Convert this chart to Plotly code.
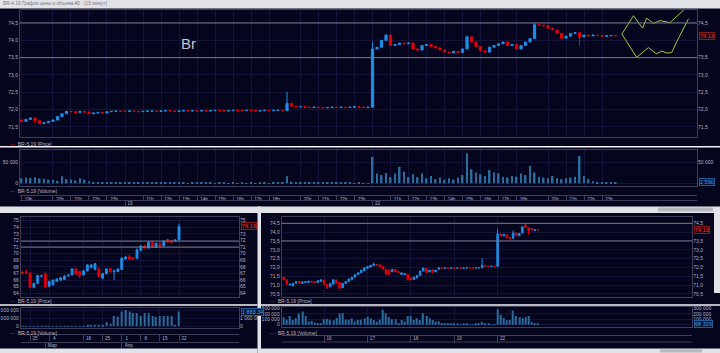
import plotly.graph_objects as go

W, H = 720, 353

SESSIONS = [("10:00", "13:45"), ("14:00", "18:30"), ("19:00", "23:45")]

# ===================== DATA =====================
# --- top window: BR-5.19, 15-minute bars (18, 19, 22 April) ---
TOP_DAYS = ["18", "19", "22"]
TOP_DAY_START = ["18:00", "10:00", "10:00"]
TOP_FIRST_OPEN = 71.70
TOP_CLOSE = [
    # 18
    71.66, 71.72, 71.76, 71.68, 71.60, 71.62, 71.66, 71.70, 71.80, 71.88, 71.95, 71.94,
    71.92, 71.95, 71.93, 71.88, 71.90, 71.92, 71.90, 71.94, 71.95, 71.96, 71.95,
    # 19
    71.95, 71.96, 71.95, 71.94, 71.95, 71.96, 71.96, 71.95, 71.96, 71.97,
    71.96, 71.95, 71.96, 71.97, 71.96, 71.97, 71.96, 71.97, 71.96, 71.97,
    71.98, 71.97, 71.96, 71.97, 71.98, 71.97, 71.97, 71.98, 71.97, 71.96,
    71.97, 71.98, 71.97, 71.98, 71.98, 71.97, 72.18, 72.10, 72.08, 72.09,
    72.07, 72.06, 72.07, 72.06, 72.05, 72.06, 72.07, 72.06, 72.07, 72.06,
    72.07, 72.08, 72.07, 72.06, 72.07,
    # 22
    73.75, 73.80, 74.00, 74.15, 73.85, 73.88, 73.92, 73.90, 73.92, 73.75,
    73.72, 73.85, 73.88, 73.82, 73.78, 73.72, 73.66, 73.64, 73.68, 73.65,
    73.75, 74.10, 73.95, 73.82, 73.70, 73.66, 73.80, 73.85, 73.90, 73.95,
    73.85, 73.88, 73.75, 73.85, 73.95, 74.05, 74.45, 74.44, 74.42, 74.35,
    74.30, 74.20, 74.06, 74.12, 74.20, 74.22, 74.10, 74.15, 74.13, 74.15,
    74.14, 74.12, 74.13, 74.14, 74.13,
]
TOP_HIGHS = {"19 19:15": 72.52, "22 10:00": 73.96, "22 10:45": 74.18,
             "22 15:15": 74.14, "22 19:15": 74.50}
TOP_LOWS = {"22 21:45": 73.85, "18 19:00": 71.58}
TOP_VOLUME = [
    # 18
    12000, 14000, 13000, 15000, 12000, 11000, 9000, 8000, 6000, 17000, 10000, 9000,
    7000, 12000, 9000, 5000, 3000, 2500, 2000, 3000, 2000, 2000, 1500,
    # 19
    2500, 1800, 1500, 1200, 1400, 1000, 1200, 900, 1100, 800,
    1000, 900, 1200, 800, 700, 900, 1000, 800, 1100, 900,
    700, 800, 1000, 600, 900, 700, 800, 600, 900, 700,
    800, 900, 600, 800, 1200, 3000, 17000, 4000, 2500, 2000,
    1800, 1500, 1200, 1400, 1000, 1200, 900, 1100, 800, 1000,
    900, 700, 800, 600, 700,
    # 22
    64000, 24000, 20000, 25000, 15000, 24000, 40000, 28000, 15000, 22000,
    15000, 24000, 12000, 18000, 10000, 14000, 8000, 12000, 9000, 14000,
    20000, 73000, 34000, 26000, 22000, 18000, 32000, 26000, 24000, 16000,
    14000, 18000, 16000, 24000, 20000, 42000, 26000, 16000, 14000, 12000,
    18000, 12000, 10000, 12000, 14000, 16000, 66000, 18000, 10000, 5000,
    3000, 2000, 2500, 2000, 2600,
]
TOP_PRICE_TICKS = [71.5, 72.0, 72.5, 73.0, 73.5, 74.0, 74.5]
TOP_PRICE_TICKS_RIGHT = [71.5, 72.0, 72.5, 73.0, 73.5, 74.5]
TOP_VOLUME_TICKS = [0, 50000]
TOP_VOLUME_TICKS_RIGHT = [50000]
TOP_LEVELS = [74.5, 73.5]
TOP_HOUR_TICKS = ["18 18:00", "18 20:00", "18 21:00", "18 22:00", "18 23:00",
                  "19 11:00", "19 12:00", "19 13:00", "19 14:00", "19 15:00", "19 16:00",
                  "19 17:00", "19 18:00", "19 20:00", "19 21:00", "19 22:00", "19 23:00",
                  "22 11:00", "22 12:00", "22 13:00", "22 14:00", "22 15:00", "22 16:00",
                  "22 17:00", "22 18:00", "22 20:00", "22 21:00", "22 22:00", "22 23:00"]
TOP_HOUR_TEXT = ["19h", "20h", "21h", "22h", "23h",
                 "11h", "12h", "13h", "14h", "15h", "16h", "17h", "18h", "20h", "21h", "22h", "23h",
                 "11h", "12h", "13h", "14h", "15h", "16h", "17h", "18h", "20h", "21h", "22h", "23h"]
TOP_DATE_TICKS = ["19 10:00", "22 10:00"]
TOP_DATE_TEXT = ["19", "22"]
# hand-drawn forecast lines (bar-slot units, price)
FORECAST_UPPER_X = [133.4, 136.0, 138.0, 138.9, 140.4, 141.9, 144.1, 147.1, 148.6]
FORECAST_UPPER_Y = [74.18, 74.71, 74.35, 74.64, 74.49, 74.57, 74.51, 74.875, 75.05]
FORECAST_LOWER_X = [133.4, 136.7, 139.3, 141.1, 142.3, 143.4, 144.5, 145.6, 148.2]
FORECAST_LOWER_Y = [74.18, 73.51, 73.79, 73.61, 73.69, 73.63, 73.65, 73.96, 74.62]

# --- bottom-left window: BR-5.19, daily bars ---
BL_DATES = ["2019-02-21", "2019-02-22", "2019-02-25", "2019-02-26", "2019-02-27", "2019-02-28",
            "2019-03-01", "2019-03-04", "2019-03-05", "2019-03-06", "2019-03-07", "2019-03-11",
            "2019-03-12", "2019-03-13", "2019-03-14", "2019-03-15", "2019-03-18", "2019-03-19",
            "2019-03-20", "2019-03-21", "2019-03-22", "2019-03-25", "2019-03-26", "2019-03-27",
            "2019-03-28", "2019-03-29", "2019-04-01", "2019-04-02", "2019-04-03", "2019-04-04",
            "2019-04-05", "2019-04-08", "2019-04-09", "2019-04-10", "2019-04-11", "2019-04-12",
            "2019-04-15", "2019-04-16", "2019-04-17", "2019-04-18", "2019-04-19", "2019-04-22"]
BL_OPEN = [67.20, 67.25, 67.05, 64.90, 65.50, 66.60, 66.90, 65.10, 65.30, 65.80, 66.00, 66.10,
           66.65, 66.80, 67.70, 67.30, 66.80, 67.40, 67.90, 67.60, 67.70, 66.30, 66.95, 67.75,
           67.30, 67.30, 67.60, 69.20, 69.55, 69.40, 69.30, 70.50, 71.15, 70.85, 71.70, 70.95,
           71.55, 71.20, 72.15, 71.95, 71.90, 72.10]
BL_HIGH = [67.40, 67.60, 67.20, 65.60, 66.80, 66.80, 67.30, 65.90, 66.10, 66.30, 66.50, 66.80,
           66.90, 67.80, 67.90, 67.40, 67.50, 68.40, 68.40, 68.60, 68.00, 67.10, 67.80, 67.90,
           67.60, 67.80, 69.50, 69.70, 69.80, 69.50, 70.80, 71.30, 71.40, 71.90, 71.90, 71.70,
           71.70, 72.00, 72.30, 72.10, 72.20, 74.55]
BL_LOW = [66.90, 66.95, 64.80, 64.75, 65.40, 66.40, 64.80, 64.90, 65.20, 65.70, 65.90, 66.00,
          66.50, 66.70, 66.80, 66.30, 66.70, 67.30, 67.80, 67.50, 66.40, 66.10, 66.90, 67.20,
          66.00, 67.20, 67.50, 69.10, 69.10, 69.10, 69.20, 70.40, 70.70, 70.80, 70.90, 70.90,
          71.00, 71.10, 71.70, 71.50, 71.80, 72.00]
BL_CLOSE = [67.05, 67.10, 64.90, 65.50, 66.70, 66.65, 65.00, 65.80, 66.00, 66.15, 66.35, 66.60,
            66.75, 67.70, 66.90, 66.70, 67.40, 68.30, 68.30, 68.50, 66.50, 67.00, 67.70, 67.25,
            67.40, 67.70, 69.30, 69.50, 69.20, 69.30, 70.60, 71.15, 70.85, 71.70, 70.95, 71.55,
            71.15, 71.90, 71.80, 71.75, 72.05, 74.13]
BL_VOLUME = [15000, 12000, 20000, 14000, 16000, 10000, 18000, 14000, 12000, 15000, 13000, 18000,
             15000, 35000, 30000, 40000, 28000, 45000, 50000, 48000, 90000, 120000, 500000, 300000,
             1300000, 1200000, 1900000, 2100000, 1900000, 1700000, 1700000, 1300000, 1700000, 1700000,
             1300000, 1200000, 1300000, 1300000, 1300000, 1300000, 60000, 1880000]
BL_PRICE_TICKS = [64, 65, 66, 67, 68, 69, 70, 71, 72, 73, 74, 75]
BL_PRICE_TICKS_RIGHT = [64, 65, 66, 67, 68, 69, 70, 71, 72, 73, 75]
BL_VOLUME_TICKS = [0, 1000000, 2000000]
BL_VOLUME_TICKS_RIGHT = [0, 1000000]
BL_VOLUME_TEXT_RIGHT = ["0", "1 000 00"]   # clipped by the window border in the screenshot
BL_LEVELS = [71.9, 71.0]
BL_TICK_DATES = ["2019-02-25", "2019-03-04", "2019-03-18", "2019-03-25",
                 "2019-04-01", "2019-04-08", "2019-04-15", "2019-04-22"]
BL_TICK_TEXT = ["25", "4", "18", "25", "1", "8", "15", "22"]
BL_MONTH_DATES = ["2019-03-01", "2019-04-01"]
BL_MONTH_TEXT = ["Мар", "Апр"]

# --- bottom-right window: BR-5.19, hourly bars (15-22 April) ---
BR_DAYS = ["15", "16", "17", "18", "19", "22"]
BR_DAY_START = ["11:00", "10:00", "10:00", "10:00", "10:00", "10:00"]
BR_OPEN = [
    71.45, 71.30, 71.00, 70.95, 71.10, 71.20, 71.10, 71.15, 71.15, 71.22, 71.20, 71.15, 71.20,
    71.28, 71.05, 70.90, 71.05, 71.30, 71.15, 70.85, 71.10, 71.20, 71.30, 71.45, 71.60, 71.70, 71.80,
    71.95, 72.02, 72.10, 72.18, 72.15, 72.05, 71.90, 71.85, 71.75, 71.88, 71.78, 71.60, 71.60, 71.62,
    71.40, 71.32, 71.40, 71.55, 71.80, 71.95, 71.75, 71.88, 71.75, 71.90, 71.98, 71.95, 71.97, 71.95,
    71.97, 71.96, 71.97, 71.96, 71.97, 71.98, 71.97, 71.97, 71.98, 71.98, 72.12, 72.07, 72.06, 72.07,
    72.06, 73.90, 73.78, 73.85, 73.70, 73.65, 73.95, 73.80, 73.95, 74.40, 74.25, 74.20, 74.10, 74.13,
]
BR_CLOSE = [
    71.30, 71.05, 71.05, 71.10, 71.20, 71.10, 71.18, 71.20, 71.22, 71.18, 71.12, 71.25, 71.30,
    71.05, 70.85, 71.10, 71.30, 71.10, 70.82, 71.10, 71.20, 71.35, 71.45, 71.60, 71.70, 71.85, 71.98,
    72.05, 72.12, 72.18, 72.12, 72.05, 71.90, 71.62, 71.60, 71.88, 71.75, 71.70, 71.70, 71.65, 71.35,
    71.30, 71.45, 71.55, 71.80, 71.97, 71.72, 71.85, 71.72, 71.85, 71.98, 71.95, 71.97, 71.95, 71.97,
    71.96, 71.97, 71.96, 71.97, 71.98, 71.97, 71.97, 71.98, 71.98, 72.12, 72.07, 72.06, 72.07, 72.06,
    73.90, 73.78, 73.88, 73.68, 73.62, 73.95, 73.80, 73.92, 74.30, 74.28, 74.10, 74.12, 74.14, 74.13,
]
BR_HIGHS = {"19 19:00": 72.52, "22 10:00": 74.20, "22 15:00": 74.10, "22 19:00": 74.50,
            "17 12:00": 72.28}
BR_LOWS = {"22 10:00": 72.04, "22 20:00": 73.85, "16 11:00": 70.78, "16 15:00": 70.75,
           "17 23:00": 71.25}
BR_VOLUME = [
    137000, 88000, 160000, 87000, 118000, 200000, 240000, 160000, 56000, 70000, 40000, 30000, 20000,
    100000, 110000, 90000, 80000, 120000, 205000, 210000, 90000, 90000, 115000, 60000, 85000, 90000, 115000,
    140000, 115000, 85000, 60000, 90000, 272000, 210000, 140000, 100000, 100000, 30000, 85000, 60000, 160000,
    160000, 85000, 118000, 87000, 210000, 160000, 118000, 87000, 56000, 56000, 30000, 20000, 15000, 10000,
    10000, 8000, 6000, 8000, 7000, 5000, 6000, 8000, 10000, 55000, 15000, 8000, 6000, 5000,
    283000, 180000, 120000, 80000, 87000, 258000, 160000, 137000, 118000, 137000, 160000, 50000, 26000, 10000,
]
BR_PRICE_TICKS = [70.5, 71.0, 71.5, 72.0, 72.5, 73.0, 73.5, 74.0, 74.5]
BR_PRICE_TICKS_RIGHT = [70.5, 71.0, 71.5, 72.0, 72.5, 73.0, 73.5, 74.5]
BR_VOLUME_TICKS = [0, 100000, 200000, 300000]
BR_VOLUME_TICKS_RIGHT = [100000, 200000, 300000]
BR_LEVELS = [74.5, 73.5]
BR_DATE_TICKS = ["16 10:00", "17 10:00", "18 10:00", "19 10:00", "22 10:00"]
BR_DATE_TEXT = ["16", "17", "18", "19", "22"]

LAST_PRICE_TEXT = "74,13"

# ===================== STYLE =====================
BG = "#05051d"
FRAME = "#3e3e58"
GRID = "#14143a"
LEVEL = "#7a7a8c"
TXT = "#b4b4c6"
BLUE = "#1e8ee6"
RED = "#e0000c"
VOLC = "#2b6c9f"
GREEN = "#9acd32"
CHROME = "#e2e3e9"
FONT = "Liberation Sans, Arial, sans-serif"


def dom_x(a, b):
    return [a / W, b / W]


def dom_y(top, bottom):
    return [1 - bottom / H, 1 - top / H]


def tmin(s):
    h, m = s.split(":")
    return int(h) * 60 + int(m)


def session_times(step, start):
    out = []
    for a, b in SESSIONS:
        t = tmin(a)
        while t <= tmin(b):
            if t >= tmin(start):
                out.append("%02d:%02d" % (t // 60, t % 60))
            t += step
    return out


def bar_keys(days, starts, step):
    keys = []
    for d, s in zip(days, starts):
        keys += [d + " " + t for t in session_times(step, s)]
    return keys


# ---- derived series ----
top_keys = bar_keys(TOP_DAYS, TOP_DAY_START, 15)
assert len(top_keys) == len(TOP_CLOSE) == len(TOP_VOLUME)
top_x = list(range(len(top_keys)))
top_open = [TOP_FIRST_OPEN] + TOP_CLOSE[:-1]
top_high = [TOP_HIGHS.get(k, max(o, c)) for k, o, c in zip(top_keys, top_open, TOP_CLOSE)]
top_low = [TOP_LOWS.get(k, min(o, c)) for k, o, c in zip(top_keys, top_open, TOP_CLOSE)]
top_hour_vals = [top_keys.index(k) for k in TOP_HOUR_TICKS]
top_date_vals = [top_keys.index(k) for k in TOP_DATE_TICKS]

br_keys = bar_keys(BR_DAYS, BR_DAY_START, 60)
assert len(br_keys) == len(BR_CLOSE) == len(BR_OPEN) == len(BR_VOLUME)
br_x = list(range(len(br_keys)))
br_high = [BR_HIGHS.get(k, max(o, c)) for k, o, c in zip(br_keys, BR_OPEN, BR_CLOSE)]
br_low = [BR_LOWS.get(k, min(o, c)) for k, o, c in zip(br_keys, BR_OPEN, BR_CLOSE)]
br_date_vals = [br_keys.index(k) for k in BR_DATE_TICKS]

bl_x = list(range(len(BL_DATES)))
bl_tick_vals = [BL_DATES.index(d) for d in BL_TICK_DATES]
bl_month_vals = [BL_DATES.index(d) for d in BL_MONTH_DATES]

# ---- geometry ----
TOP_XD, TOP_XR = dom_x(20, 697), [-0.33, 150.1]
BL_XD, BL_XR = dom_x(20.7, 239), [-0.45, 56.7]
BR_XD, BR_XR = dom_x(281.7, 692.3), [-0.65, 131.8]

tickfont = dict(size=5, color=TXT, family=FONT)
rowfont = dict(size=4.6, color=TXT, family=FONT)


def panel_x(domain, rng, anchor, gridvals):
    return dict(domain=domain, range=rng, anchor=anchor, tickvals=gridvals, showticklabels=False,
                showgrid=True, gridcolor=GRID, gridwidth=1, zeroline=False, showline=True,
                mirror=True, linecolor=FRAME, linewidth=1, ticks="", fixedrange=True,
                automargin=False, rangeslider=dict(visible=False))


def left_y(domain, rng, vals, fmt, anchor):
    return dict(domain=domain, range=rng, anchor=anchor, side="left", tickvals=vals, tickformat=fmt,
                showgrid=True, gridcolor=GRID, zeroline=False, showline=True, mirror=True,
                linecolor=FRAME, linewidth=1, ticks="", tickfont=tickfont, fixedrange=True,
                automargin=False)


def right_y(over, rng, vals, fmt, anchor, text=None):
    d = dict(overlaying=over, anchor=anchor, side="right", range=rng, tickvals=vals,
             tickformat=fmt, showgrid=False, zeroline=False, showline=False, ticks="",
             tickfont=tickfont, fixedrange=True, automargin=False)
    if text is not None:
        d["ticktext"] = text
    return d


def row_x(domain, rng, anchor, vals, text, tlen, shift, standoff):
    return dict(domain=domain, range=rng, anchor=anchor, side="bottom", tickvals=vals,
                ticktext=text, showline=True, linecolor=FRAME, linewidth=1, ticks="outside",
                ticklen=tlen, tickcolor=FRAME, tickwidth=1, ticklabelstandoff=standoff,
                ticklabelshift=shift, tickfont=rowfont, showgrid=False, zeroline=False,
                fixedrange=True, automargin=False)


def row_y(top):
    return dict(domain=dom_y(top - 1, top), range=[0, 1], visible=False, fixedrange=True,
                automargin=False)


def candles(x, o, h, l, c, xa, ya):
    return go.Candlestick(x=x, open=o, high=h, low=l, close=c, xaxis=xa, yaxis=ya,
                          increasing=dict(line=dict(color=BLUE, width=1), fillcolor=BLUE),
                          decreasing=dict(line=dict(color=RED, width=1), fillcolor=RED),
                          whiskerwidth=0, hoverinfo="skip", showlegend=False)


def vol(x, v, xa, ya, width):
    return go.Bar(x=x, y=v, xaxis=xa, yaxis=ya, width=width, marker=dict(color=VOLC, line=dict(width=0)),
                  hoverinfo="skip", showlegend=False)


def dummy(xa, ya):
    return go.Scatter(x=[], y=[], xaxis=xa, yaxis=ya, showlegend=False, hoverinfo="skip")


traces = [
    candles(top_x, top_open, top_high, top_low, TOP_CLOSE, "x", "y"),
    go.Scatter(x=FORECAST_UPPER_X, y=FORECAST_UPPER_Y, xaxis="x", yaxis="y", mode="lines",
               line=dict(color=GREEN, width=1), hoverinfo="skip", showlegend=False),
    go.Scatter(x=FORECAST_LOWER_X, y=FORECAST_LOWER_Y, xaxis="x", yaxis="y", mode="lines",
               line=dict(color=GREEN, width=1), hoverinfo="skip", showlegend=False),
    vol(top_x, TOP_VOLUME, "x2", "y3", 0.42),
    candles(bl_x, BL_OPEN, BL_HIGH, BL_LOW, BL_CLOSE, "x5", "y7"),
    vol(bl_x, BL_VOLUME, "x6", "y9", 0.3),
    candles(br_x, BR_OPEN, br_high, br_low, BR_CLOSE, "x9", "y13"),
    vol(br_x, BR_VOLUME, "x10", "y15", 0.4),
]
for xa, ya in [("x", "y2"), ("x2", "y4"), ("x3", "y5"), ("x4", "y6"), ("x5", "y8"), ("x6", "y10"),
               ("x7", "y11"), ("x8", "y12"), ("x9", "y14"), ("x10", "y16"), ("x11", "y17")]:
    traces.append(dummy(xa, ya))

top_grid = sorted(set(top_hour_vals + top_date_vals))
TOP_YR = [71.21, 74.875]
TOP_VR = [-6500, 80800]
BL_YR = [63.4, 75.6]
BL_VR = [-300000, 2390000]
BR_YR = [70.31, 74.875]
BR_VR = [-48000, 318000]

layout = dict(
    width=W, height=H, autosize=False, margin=dict(l=0, r=0, t=0, b=0, pad=0),
    paper_bgcolor=BG, plot_bgcolor=BG, showlegend=False, separators=", ",
    font=dict(family=FONT, size=5, color=TXT), hovermode=False,
    # top
    xaxis=panel_x(TOP_XD, TOP_XR, "y", top_grid),
    yaxis=left_y(dom_y(10, 137), TOP_YR, TOP_PRICE_TICKS, ".1f", "x"),
    yaxis2=right_y("y", TOP_YR, TOP_PRICE_TICKS_RIGHT, ".1f", "x"),
    xaxis2=panel_x(TOP_XD, TOP_XR, "y3", top_grid),
    yaxis3=left_y(dom_y(150, 186), TOP_VR, TOP_VOLUME_TICKS, ",.0f", "x2"),
    yaxis4=right_y("y3", TOP_VR, TOP_VOLUME_TICKS_RIGHT, ",.0f", "x2"),
    xaxis3=row_x(TOP_XD, TOP_XR, "y5", top_hour_vals, TOP_HOUR_TEXT, 5, 7, -6),
    yaxis5=row_y(195.3),
    xaxis4=row_x(TOP_XD, TOP_XR, "y6", top_date_vals, TOP_DATE_TEXT, 5, 5, -7),
    yaxis6=row_y(200.3),
    # bottom-left
    xaxis5=panel_x(BL_XD, BL_XR, "y7", bl_tick_vals),
    yaxis7=left_y(dom_y(216.7, 297.3), BL_YR, BL_PRICE_TICKS, "d", "x5"),
    yaxis8=right_y("y7", BL_YR, BL_PRICE_TICKS_RIGHT, "d", "x5"),
    xaxis6=panel_x(BL_XD, BL_XR, "y9", bl_tick_vals),
    yaxis9=left_y(dom_y(307.7, 328.3), BL_VR, BL_VOLUME_TICKS, ",.0f", "x6"),
    yaxis10=right_y("y9", BL_VR, BL_VOLUME_TICKS_RIGHT, ",.0f", "x6", BL_VOLUME_TEXT_RIGHT),
    xaxis7=row_x(BL_XD, BL_XR, "y11", bl_tick_vals, BL_TICK_TEXT, 6, 5, -7),
    yaxis11=row_y(334.3),
    xaxis8=row_x(BL_XD, BL_XR, "y12", bl_month_vals, BL_MONTH_TEXT, 5, 7, -6),
    yaxis12=row_y(341.7),
    # bottom-right
    xaxis9=panel_x(BR_XD, BR_XR, "y13", br_date_vals),
    yaxis13=left_y(dom_y(216.7, 297.3), BR_YR, BR_PRICE_TICKS, ".1f", "x9"),
    yaxis14=right_y("y13", BR_YR, BR_PRICE_TICKS_RIGHT, ".1f", "x9"),
    xaxis10=panel_x(BR_XD, BR_XR, "y15", br_date_vals),
    yaxis15=left_y(dom_y(307.3, 327.3), BR_VR, BR_VOLUME_TICKS, ",.0f", "x10"),
    yaxis16=right_y("y15", BR_VR, BR_VOLUME_TICKS_RIGHT, ",.0f", "x10"),
    xaxis11=row_x(BR_XD, BR_XR, "y17", br_date_vals, BR_DATE_TEXT, 7, 5, -8),
    yaxis17=row_y(334.7),
)

shapes = []
for lv in TOP_LEVELS:
    shapes.append(dict(type="line", xref="x domain", yref="y", x0=0, x1=1, y0=lv, y1=lv,
                       line=dict(color=LEVEL, width=1)))
for lv in BL_LEVELS:
    shapes.append(dict(type="line", xref="x5 domain", yref="y7", x0=0, x1=1, y0=lv, y1=lv,
                       line=dict(color=LEVEL, width=1)))
for lv in BR_LEVELS:
    shapes.append(dict(type="line", xref="x9 domain", yref="y13", x0=0, x1=1, y0=lv, y1=lv,
                       line=dict(color=LEVEL, width=1)))


def rect(x0, y0, x1, y1, color):
    return dict(type="rect", xref="paper", yref="paper", x0=x0 / W, x1=x1 / W,
                y0=1 - y1 / H, y1=1 - y0 / H, fillcolor=color, line=dict(width=0), layer="above")


shapes += [
    rect(0, 0, 720, 8.5, CHROME),
    rect(0, 146, 720, 147.6, "#f4f4f8"),
    rect(0, 206.5, 720, 213, CHROME),
    rect(658, 207.5, 713, 211.5, "#b8b8c0"),
    rect(257.5, 206.5, 261, 353, CHROME),
    rect(0, 304.3, 257.5, 305.8, "#f4f4f8"),
    rect(261, 304.3, 720, 305.8, "#f4f4f8"),
    rect(0, 348.5, 257.5, 353, CHROME),
    rect(261, 348.5, 720, 353, CHROME),
    rect(660, 349.3, 702, 352.5, "#b8b8c0"),
    rect(714, 213, 720, 293, CHROME),
    dict(type="line", xref="paper", yref="paper", x0=281.7 / W, x1=692.3 / W,
         y0=1 - 342 / H, y1=1 - 342 / H, line=dict(color=FRAME, width=1)),
]
layout["shapes"] = shapes


def ann_px(text, x, y, size=5, color=TXT, xanchor="left"):
    return dict(text=text, xref="paper", yref="paper", x=x / W, y=1 - y / H, showarrow=False,
                xanchor=xanchor, yanchor="middle", font=dict(size=size, color=color, family=FONT))


def legend(text, color, x, y):
    return ann_px('<span style="color:%s">—</span>  %s' % (color, text), x, y, 5, TXT)


def tag(text, x, yref, y, color, bg, border):
    return dict(text=text, xref="paper", yref=yref, x=x / W, y=y, showarrow=False,
                xanchor="left", yanchor="middle", font=dict(size=5.5, color=color, family=FONT),
                bgcolor=bg, bordercolor=border, borderwidth=1, borderpad=0)


annotations = [
    ann_px("BR-4.19 График цены и объема #2 - [15 минут]", 1, 4, 4.8, "#7a7a80"),
    ann_px("Br", 188, 43, 15, "#c4c4cc", "center"),
    legend("BR-5.19 [Price]", RED, 8, 143.5),
    legend("BR-5.19 [Volume]", VOLC, 8, 190.8),
    legend("BR-5.19 [Price]", RED, 8, 300.7),
    legend("BR-5.19 [Volume]", VOLC, 8, 332.6),
    legend("BR-5.19 [Price]", RED, 268, 300.7),
    legend("BR-5.19 [Volume]", VOLC, 268, 332.6),
    tag(LAST_PRICE_TEXT, 699, "y", TOP_CLOSE[-1], "#ff3434", "#1c0610", "#8a1a1a"),
    tag("2 590", 699, "y3", 2590, "#3ea2ff", "#08142a", "#1e5c96"),
    tag(LAST_PRICE_TEXT, 241, "y7", BL_CLOSE[-1], "#ff3434", "#1c0610", "#8a1a1a"),
    tag("1 883 34", 241, "y9", BL_VOLUME[-1], "#3ea2ff", "#08142a", "#1e5c96"),
    tag(LAST_PRICE_TEXT, 694, "y13", BR_CLOSE[-1], "#ff3434", "#1c0610", "#8a1a1a"),
    tag("68 329", 694, "y15", 10000, "#3ea2ff", "#08142a", "#1e5c96"),
]
layout["annotations"] = annotations

fig = go.Figure(data=traces, layout=layout)
fig.write_html("out.html", config=dict(displayModeBar=False))
